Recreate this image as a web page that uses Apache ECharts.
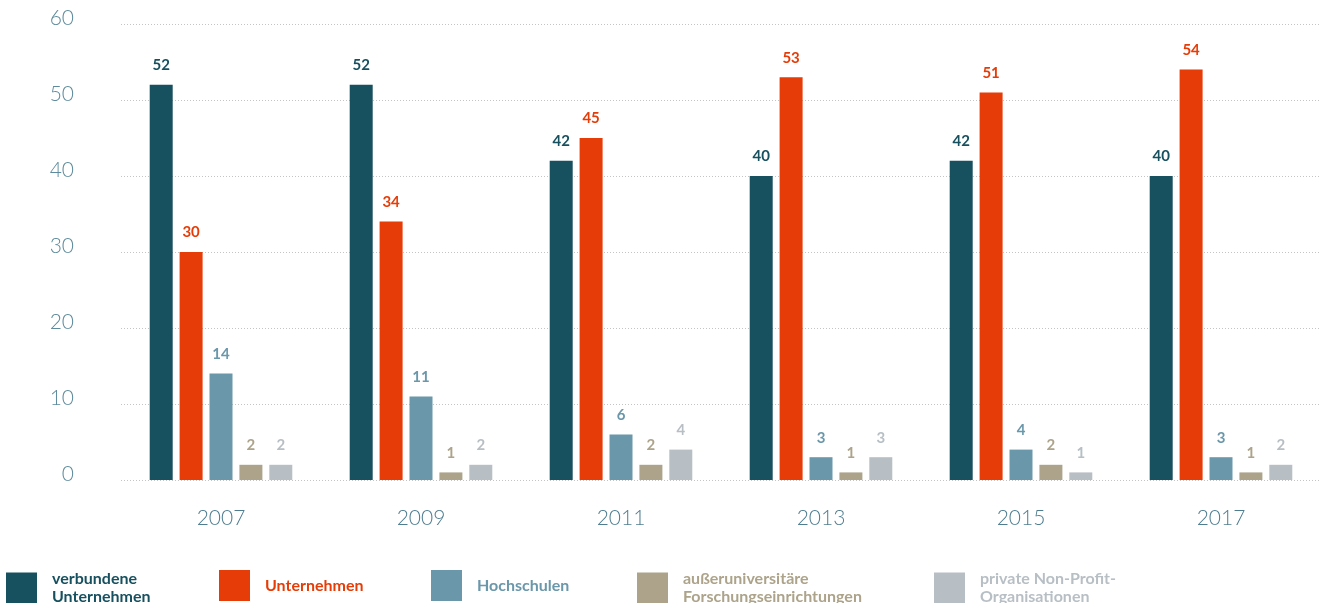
<!DOCTYPE html>
<html>
<head>
<meta charset="utf-8">
<title>FuE-Personal nach Sektoren</title>
<script src="https://cdn.jsdelivr.net/npm/echarts@6/dist/echarts.min.js"></script>
<style>
  html, body { margin: 0; padding: 0; background: #ffffff; }
  #chart { width: 1330px; height: 603px; }
</style>
</head>
<body>
<div id="chart"></div>
<script>
// Survey years on the category axis
const years = ['2007', '2009', '2011', '2013', '2015', '2017'];

// Values per sector, one entry per year
const verbundeneUnternehmen = [52, 52, 42, 40, 42, 40];
const unternehmen = [30, 34, 45, 53, 51, 54];
const hochschulen = [14, 11, 6, 3, 4, 3];
const ausseruniversitaere = [2, 1, 2, 1, 2, 1];
const privateNonProfit = [2, 2, 4, 3, 1, 2];

// Series names and the two-line legend captions
const seriesNames = [
  'verbundene Unternehmen',
  'Unternehmen',
  'Hochschulen',
  'außeruniversitäre Forschungseinrichtungen',
  'private Non-Profit-Organisationen'
];
const legendLabels = [
  'verbundene\nUnternehmen',
  'Unternehmen',
  'Hochschulen',
  'außeruniversitäre\nForschungseinrichtungen',
  'private Non-Profit-\nOrganisationen'
];

// Y axis ticks
const yTicks = [0, 10, 20, 30, 40, 50, 60];

const seriesValues = [verbundeneUnternehmen, unternehmen, hochschulen, ausseruniversitaere, privateNonProfit];
const colors = ['#17505f', '#e63c07', '#6a97aa', '#aca38a', '#b7bfc5'];
const legendLeft = [6, 219, 431, 637, 934];

const FONT = 'Lato, "Open Sans", sans-serif';

const chart = echarts.init(document.getElementById('chart'), null, { renderer: 'canvas' });

const option = {
  backgroundColor: '#ffffff',
  animation: false,
  color: colors,
  grid: { left: 121, right: 9, top: 24, bottom: 123, containLabel: false },
  legend: seriesNames.map((name, i) => ({
    data: [name],
    left: legendLeft[i],
    top: 570,
    padding: 0,
    itemWidth: 31,
    itemHeight: 31,
    itemGap: 0,
    icon: 'rect',
    selectedMode: false,
    formatter: () => legendLabels[i],
    textStyle: {
      color: colors[i],
      fontFamily: FONT,
      fontWeight: 'bold',
      fontSize: 16,
      lineHeight: 18,
      padding: [0, 0, 0, 10]
    }
  })),
  xAxis: {
    type: 'category',
    data: years,
    axisLine: { show: false },
    axisTick: { show: false },
    axisLabel: {
      color: '#4e7d90',
      fontFamily: FONT,
      fontWeight: 300,
      fontSize: 21,
      margin: 28
    }
  },
  yAxis: {
    type: 'value',
    min: yTicks[0],
    max: yTicks[yTicks.length - 1],
    interval: yTicks[1] - yTicks[0],
    axisLine: { show: false },
    axisTick: { show: false },
    axisLabel: {
      color: '#5d8a9c',
      fontFamily: FONT,
      fontWeight: 300,
      fontSize: 21,
      margin: 47,
      verticalAlign: 'bottom',
      lineHeight: 12
    },
    splitLine: {
      show: true,
      lineStyle: { color: '#c4c4c4', type: [1, 2], width: 1 }
    }
  },
  series: seriesNames.map((name, i) => ({
    name: name,
    type: 'bar',
    data: seriesValues[i],
    barWidth: 23,
    barGap: '30%',
    itemStyle: { color: colors[i] },
    label: {
      show: true,
      position: 'top',
      distance: 12,
      color: colors[i],
      fontFamily: FONT,
      fontWeight: 'bold',
      fontSize: 15
    }
  }))
};

chart.setOption(option);
</script>
</body>
</html>
